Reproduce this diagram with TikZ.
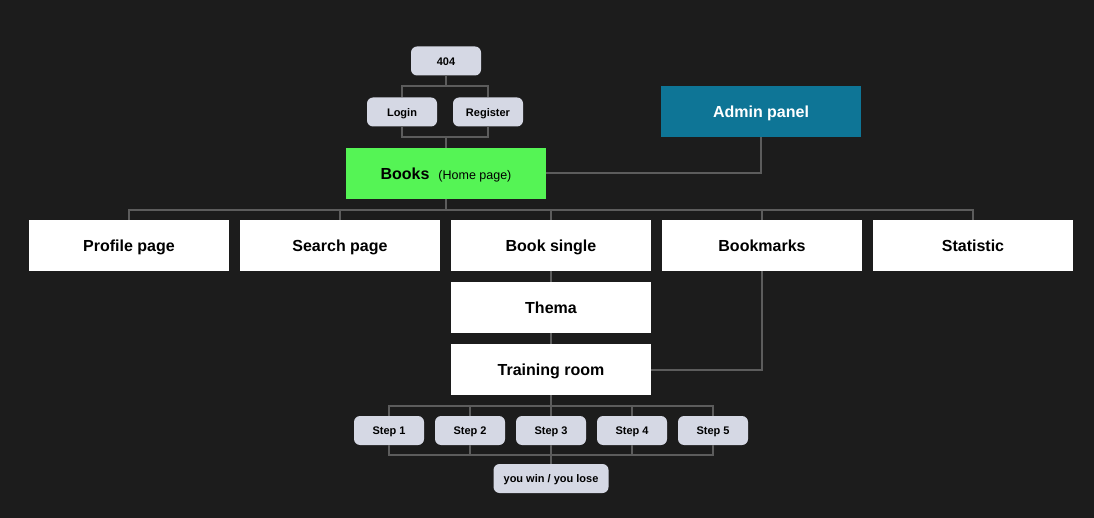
\documentclass[tikz,border=0pt]{standalone}
\usepackage{fontspec}
\setmainfont{Liberation Sans}
\usepackage{tikz}
\usetikzlibrary{positioning}

\definecolor{bgdark}{HTML}{1C1C1C}
\definecolor{pillgray}{HTML}{D5D8E4}
\definecolor{homegreen}{HTML}{55F455}
\definecolor{adminteal}{HTML}{0E7596}
\definecolor{linkgray}{HTML}{5C5C5C}

\begin{document}
\begin{tikzpicture}[
  x=1pt, y=-1pt,
  page/.style={rectangle, fill=white, text=black, minimum width=200pt, minimum height=51pt, inner sep=0pt, outer sep=0pt, text height=11.8pt, text depth=0pt, font=\bfseries\fontsize{16}{19}\selectfont},
  pill/.style={rectangle, rounded corners=6pt, fill=pillgray, text=black, minimum width=70pt, minimum height=29pt, inner sep=0pt, outer sep=0pt, text height=8.2pt, text depth=0pt, font=\bfseries\fontsize{11}{13}\selectfont},
  link/.style={draw=linkgray, line width=2pt}
]
\fill[bgdark] (0,0) rectangle (1094,518);
\useasboundingbox (0,0) rectangle (1094,518);

% access pages
\node[pill] (p404) at (446,61) {404};
\node[pill] (login) at (402,112) {Login};
\node[pill] (register) at (488,112) {Register};
\node[page, fill=homegreen] (books) at (446,173.5) {Books\hspace{9pt}{\mdseries\fontsize{12.5}{15}\selectfont(Home page)}};
\node[page, fill=adminteal, text=white] (admin) at (761,112) {Admin panel};

% main sections
\node[page] (profile) at (129,245.5) {Profile page};
\node[page] (search) at (340,245.5) {Search page};
\node[page] (single) at (551,245.5) {Book single};
\node[page] (bookmarks) at (762,245.5) {Bookmarks};
\node[page] (statistic) at (973,245.5) {Statistic};
\node[page, below=11pt of single.south east, anchor=north east] (thema) {Thema};
\node[page, below=11pt of thema] (training) {Training room};

% steps
\node[pill] (step1) at (389,430.5) {Step 1};
\node[pill, right=11pt of step1] (step2) {Step 2};
\node[pill, right=11pt of step2] (step3) {Step 3};
\node[pill, right=11pt of step3] (step4) {Step 4};
\node[pill, right=11pt of step4] (step5) {Step 5};
\node[pill, minimum width=115pt] (result) at (step3 |- 0,478.5) {you win / you lose};

% bus points
\coordinate (topbus) at (446,86);
\coordinate (lrbus) at (446,137);
\coordinate (rowbus) at (446,210);
\coordinate (stepbus) at (551,405.5);
\coordinate (endbus) at (551,455);

\draw[link] (p404) -- (topbus);
\draw[link] (login.north) |- (topbus) -| (register.north);
\draw[link] (login.south) |- (lrbus) -| (register.south);
\draw[link] (lrbus) -- (books.north);
\draw[link] (admin.south) |- (books.east);
\draw[link] (books.south) -- (rowbus);
\draw[link] (profile.north) |- (rowbus) -| (statistic.north);
\foreach \sec in {search, single, bookmarks}
  \draw[link] (\sec.north) -- (\sec.north |- rowbus);
\draw[link] (single) -- (thema);
\draw[link] (thema) -- (training);
\draw[link] (bookmarks.south) |- (training.east);
\draw[link] (training.south) -- (stepbus);
\draw[link] (step1.north) |- (stepbus) -| (step5.north);
\draw[link] (step1.south) |- (endbus) -| (step5.south);
\foreach \st in {step2, step3, step4} {
  \draw[link] (\st.north) -- (\st.north |- stepbus);
  \draw[link] (\st.south) -- (\st.south |- endbus);
}
\draw[link] (endbus) -- (result.north);
\end{tikzpicture}
\end{document}
